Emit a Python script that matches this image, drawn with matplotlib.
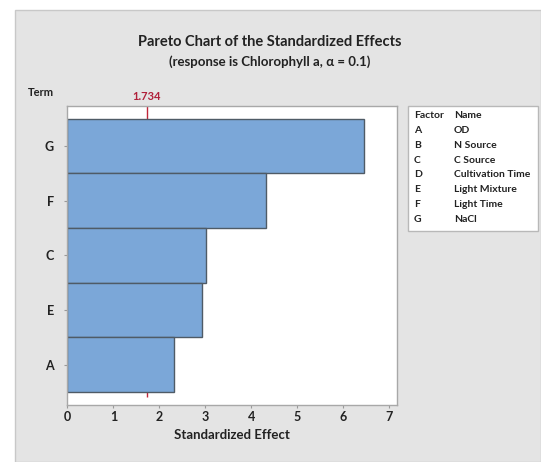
import matplotlib
matplotlib.use('Agg')
import matplotlib.pyplot as plt
from matplotlib.patches import Rectangle

plt.rcParams['font.family'] = ['Lato', 'DejaVu Sans']

# effects, largest at the top
terms = ['G', 'F', 'C', 'E', 'A']
effects = [6.45, 4.32, 3.02, 2.93, 2.33]
critical = 1.734
factors = ['A', 'B', 'C', 'D', 'E', 'F', 'G']
names = ['OD', 'N Source', 'C Source', 'Cultivation Time', 'Light Mixture', 'Light Time', 'NaCl']
xticks = [0, 1, 2, 3, 4, 5, 6, 7]

W, H = 541, 462
TXT = '#222222'
fig = plt.figure(figsize=(W / 100, H / 100), dpi=100)
fig.patch.set_facecolor('white')

# gray panel behind everything
fig.patches.append(Rectangle((15 / W, 0), 1 - 15 / W, 1 - 10 / H, transform=fig.transFigure,
                             facecolor='#e4e4e4', edgecolor='#c8c8c8', lw=1, zorder=-5))

ax = fig.add_axes([67.3 / W, 1 - 405 / H, (396.7 - 67.3) / W, (405 - 105.7) / H])
ax.set_zorder(2)
ax.set_facecolor('white')

ypos = list(range(len(terms) - 1, -1, -1))
ax.vlines(critical, -0.6, 4.74, color='#c0263a', lw=1, zorder=1)
ax.barh(ypos, effects, height=1.0, color='#7ba7d8', edgecolor='#4f5b66', lw=1, zorder=2)

ax.set_xlim(0, 7.16)
ax.set_ylim(-0.74, 4.74)
ax.set_xticks(xticks)
ax.set_xticklabels([str(t) for t in xticks], fontsize=9, color=TXT, fontweight='bold')
ax.set_yticks(ypos)
ax.set_yticklabels(terms, fontsize=9, color=TXT, fontweight='bold')
ax.tick_params(axis='both', direction='out', length=2.5, color='#999999', width=0.8)
ax.tick_params(axis='y', pad=7)
ax.tick_params(axis='x', pad=2)
for s in ax.spines.values():
    s.set_color('#a8a8a8')
    s.set_linewidth(1)
ax.set_xlabel('Standardized Effect', fontsize=9.5, color=TXT, fontweight='bold', labelpad=4)

fig.text(270 / W, 1 - 42 / H, 'Pareto Chart of the Standardized Effects', ha='center', va='center',
         fontsize=10.5, color=TXT, fontweight='bold')
fig.text(270 / W, 1 - 62 / H, '(response is Chlorophyll a, \u03b1 = 0.1)', ha='center', va='center',
         fontsize=9.5, color=TXT, fontweight='bold')
fig.text(28 / W, 1 - 92 / H, 'Term', ha='left', va='center', fontsize=8, color=TXT, fontweight='bold')
fig.text(147 / W, 1 - 96 / H, f'{critical:.3f}', ha='center', va='center', fontsize=8,
         color='#b0203a', fontweight='bold')

# factor legend box
fig.patches.append(Rectangle((408 / W, 1 - 231 / H), 130 / W, 125 / H, transform=fig.transFigure,
                             facecolor='white', edgecolor='#b8b8b8', lw=1, zorder=1))
fig.text(414 / W, 1 - 115 / H, 'Factor', ha='left', va='center', fontsize=7.5, color=TXT, fontweight='bold')
fig.text(454 / W, 1 - 115 / H, 'Name', ha='left', va='center', fontsize=7.5, color=TXT, fontweight='bold')
for i, (f, n) in enumerate(zip(factors, names)):
    y = 1 - (130.5 + i * 14.8) / H
    fig.text(414 / W, y, f, ha='left', va='center', fontsize=7.5, color=TXT, fontweight='bold')
    fig.text(454 / W, y, n, ha='left', va='center', fontsize=7.5, color=TXT, fontweight='bold')

fig.savefig('out.png', dpi=100, facecolor=fig.get_facecolor())
